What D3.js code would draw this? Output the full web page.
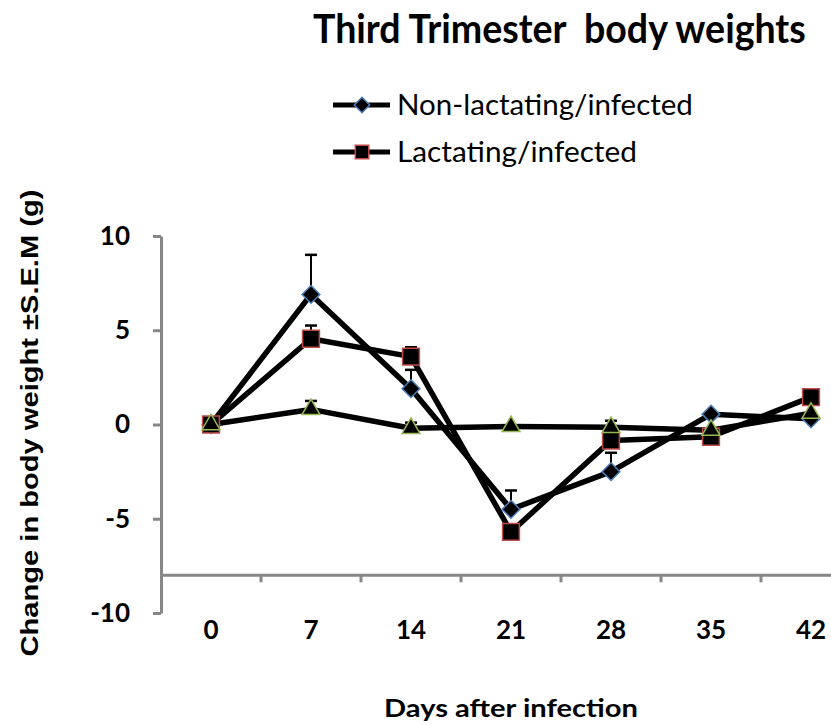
<!DOCTYPE html>
<html>
<head>
<meta charset="utf-8">
<script src="https://cdn.jsdelivr.net/npm/d3@7"></script>
<style>
  body { margin: 0; background: #fff; }
  svg { display: block; }
</style>
</head>
<body>
<div id="chart"></div>
<script>
// chart values
var days = [0, 7, 14, 21, 28, 35, 42];
var nonLactating = [0, 6.9, 1.9, -4.5, -2.5, 0.55, 0.3];
var nonLactatingSem = [0, 2.1, 1.0, 1.0, 1.0, 0, 0];
var lactating = [0, 4.55, 3.6, -5.7, -0.85, -0.65, 1.45];
var lactatingSem = [0, 0.7, 0.5, 0, 0, 0, 0];
var third = [0, 0.8, -0.2, -0.1, -0.15, -0.3, 0.6];
var thirdSem = [0, 0.45, 0.3, 0, 0.35, 0, 0];
var yTicks = [-10, -5, 0, 5, 10];
var legendNames = ["Non-lactating/infected", "Lactating/infected"];

var width = 831, height = 725;
var axisColor = "#878787";
var calibri = "Lato, 'Open Sans', sans-serif";

var svg = d3.select("#chart").append("svg")
    .attr("width", width)
    .attr("height", height);

var x = d3.scaleBand().domain(days).range([161, 861]).padding(0);
var y = d3.scaleLinear().domain([-10, 10]).range([613, 236]);

// text scaled along its baseline to the width it has in the picture
// (Calibri metrics differ from Lato); tx,ty is the anchor point
function fitText(parent, tx, ty, rot, w, build) {
    var g = parent.append("g");
    var t = build(g.append("text"));
    var sx = w / t.node().getComputedTextLength();
    g.attr("transform", "translate(" + tx + "," + ty + ")" + (rot ? " rotate(" + rot + ")" : "") + " scale(" + sx + ",1)");
    return t;
}

// title
fitText(svg, 313, 43, 0, 493, t => t
    .attr("font-family", calibri)
    .attr("font-weight", "bold")
    .attr("font-size", 40)
    .style("white-space", "pre")
    .text("Third Trimester  body weights"));

// y axis
var yAxis = svg.append("g")
    .attr("transform", "translate(161,0)")
    .call(d3.axisLeft(y).tickValues(yTicks).tickSize(8).tickSizeOuter(0).tickFormat(d3.format("d")));
yAxis.select(".domain").attr("stroke", axisColor).attr("stroke-width", 3);
yAxis.selectAll(".tick line").attr("stroke", axisColor).attr("stroke-width", 3);
yAxis.selectAll(".tick text")
    .attr("x", -31)
    .attr("font-family", calibri)
    .attr("font-weight", "bold")
    .attr("font-size", 26)
    .attr("fill", "#000")
    .text(d => d < 0 ? "-" + Math.abs(d) : d);

// x axis sits at -8 with ticks between categories
var xAxisY = y(-8);
var xg = svg.append("g");
xg.append("line")
    .attr("x1", 161).attr("x2", width)
    .attr("y1", xAxisY).attr("y2", xAxisY)
    .attr("stroke", axisColor).attr("stroke-width", 3);
xg.selectAll("line.tk")
    .data(days.slice(1))
    .join("line")
    .attr("class", "tk")
    .attr("x1", d => x(d)).attr("x2", d => x(d))
    .attr("y1", xAxisY).attr("y2", xAxisY + 7)
    .attr("stroke", axisColor).attr("stroke-width", 3);
xg.selectAll("text")
    .data(days)
    .join("text")
    .attr("x", d => x(d) + x.bandwidth() / 2)
    .attr("y", 639)
    .attr("text-anchor", "middle")
    .attr("font-family", calibri)
    .attr("font-weight", "bold")
    .attr("font-size", 26)
    .text(d => d);

// axis titles
fitText(svg, 511, 717, 0, 254, t => t
    .attr("text-anchor", "middle")
    .attr("font-family", calibri)
    .attr("font-weight", "bold")
    .attr("font-size", 25)
    .text("Days after infection"));

fitText(svg, 30, 423, -90, 467, t => t
    .attr("text-anchor", "middle")
    .attr("dy", "0.36em")
    .attr("font-family", "'Liberation Sans', Arial, sans-serif")
    .attr("font-weight", "bold")
    .attr("font-size", 23)
    .text("Change in body weight \u00B1S.E.M (g)"));

var cx = d => x(d) + x.bandwidth() / 2;

var series = [
    {values: nonLactating, sem: nonLactatingSem, shape: d3.symbolDiamond2, size: 200, edge: "#4a7ebb"},
    {values: lactating, sem: lactatingSem, shape: d3.symbolSquare2, size: 360, edge: "#be4b48"},
    {values: third, sem: thirdSem, shape: d3.symbolTriangle2, size: 230, edge: "#98b954"}
];

var line = d3.line().x((d, i) => cx(days[i])).y(d => y(d));

series.forEach(function(s) {
    var g = svg.append("g");
    // error bars (upward only)
    var eb = days.map((d, i) => ({d: d, v: s.values[i], e: s.sem[i]})).filter(p => p.e > 0);
    g.selectAll("line.eb")
        .data(eb)
        .join("line")
        .attr("x1", p => cx(p.d)).attr("x2", p => cx(p.d))
        .attr("y1", p => y(p.v)).attr("y2", p => y(p.v + p.e))
        .attr("stroke", "#000").attr("stroke-width", 2);
    g.selectAll("line.cap")
        .data(eb)
        .join("line")
        .attr("x1", p => cx(p.d) - 6).attr("x2", p => cx(p.d) + 6)
        .attr("y1", p => y(p.v + p.e)).attr("y2", p => y(p.v + p.e))
        .attr("stroke", "#000").attr("stroke-width", 2.5);
    s.g = g;
});

series.forEach(function(s) {
    s.g.append("path")
        .datum(s.values)
        .attr("d", line)
        .attr("fill", "none")
        .attr("stroke", "#000")
        .attr("stroke-width", 5.5)
        .attr("stroke-linejoin", "round");
});

series.forEach(function(s) {
    svg.append("g").selectAll("path")
        .data(s.values)
        .join("path")
        .attr("transform", (v, i) => "translate(" + cx(days[i]) + "," + y(v) + ")")
        .attr("d", d3.symbol().type(s.shape).size(s.size))
        .attr("fill", "#000")
        .attr("stroke", s.edge)
        .attr("stroke-width", 1.5);
});

// legend
var legendRows = [105, 152];
var legendWidths = [296, 240];
legendNames.forEach(function(name, i) {
    var s = series[i];
    var ly = legendRows[i];
    svg.append("line")
        .attr("x1", 333).attr("x2", 390)
        .attr("y1", ly).attr("y2", ly)
        .attr("stroke", "#000").attr("stroke-width", 5);
    svg.append("path")
        .attr("transform", "translate(362," + ly + ")")
        .attr("d", d3.symbol().type(s.shape).size(i === 0 ? 150 : 230))
        .attr("fill", "#000")
        .attr("stroke", s.edge)
        .attr("stroke-width", 1.5);
    fitText(svg, 397, ly + 10, 0, legendWidths[i], t => t
        .attr("font-family", calibri)
        .attr("font-size", 28)
        .text(name));
});
</script>
</body>
</html>
